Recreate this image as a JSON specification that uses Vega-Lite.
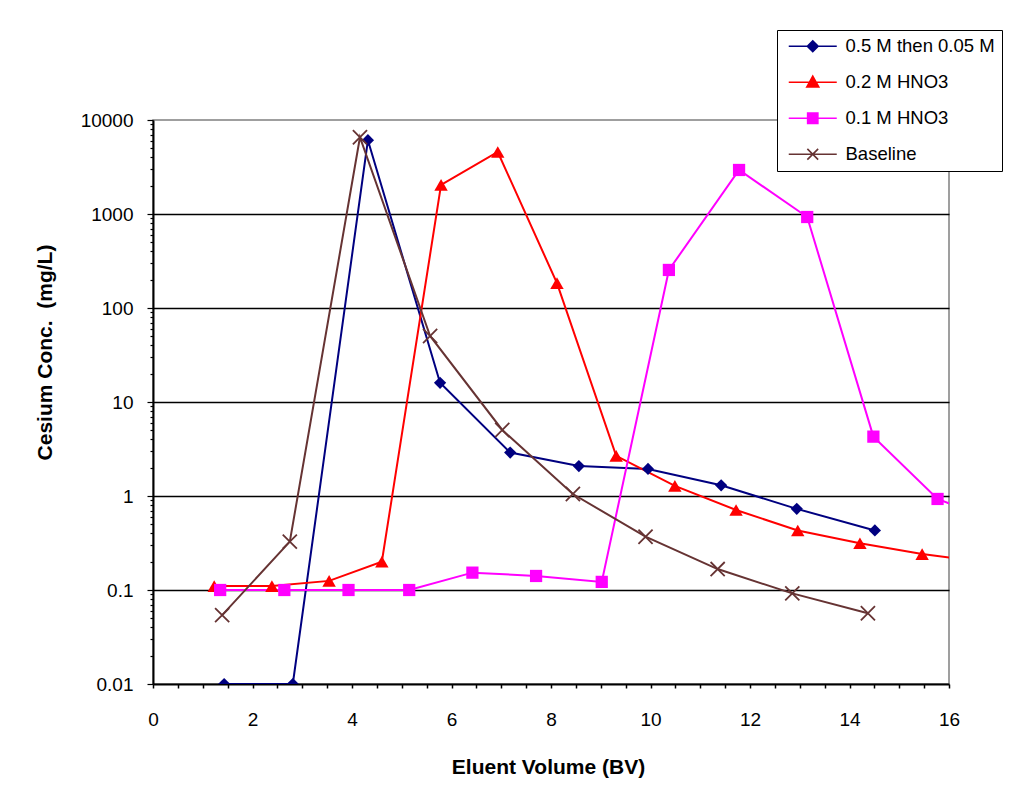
{
  "$schema": "https://vega.github.io/schema/vega-lite/v6.json",
  "width": 796,
  "height": 564,
  "autosize": {"type": "none"},
  "padding": {"left": 153, "top": 120, "right": 61, "bottom": 122},
  "background": "white",
  "config": {
    "font": "Liberation Sans",
    "view": {"stroke": "#808080", "strokeWidth": 1.5}
  },
  "data": {
    "values": [
      {"series": "0.5 M then 0.05 M", "bv": 1.43, "conc": 0.01},
      {"series": "0.5 M then 0.05 M", "bv": 2.81, "conc": 0.01},
      {"series": "0.5 M then 0.05 M", "bv": 4.32, "conc": 6100},
      {"series": "0.5 M then 0.05 M", "bv": 5.77, "conc": 16},
      {"series": "0.5 M then 0.05 M", "bv": 7.18, "conc": 2.9},
      {"series": "0.5 M then 0.05 M", "bv": 8.56, "conc": 2.08},
      {"series": "0.5 M then 0.05 M", "bv": 9.95, "conc": 1.94},
      {"series": "0.5 M then 0.05 M", "bv": 11.42, "conc": 1.3},
      {"series": "0.5 M then 0.05 M", "bv": 12.94, "conc": 0.73},
      {"series": "0.5 M then 0.05 M", "bv": 14.51, "conc": 0.43},
      {"series": "0.2 M HNO3", "bv": 1.23, "conc": 0.11},
      {"series": "0.2 M HNO3", "bv": 2.39, "conc": 0.11},
      {"series": "0.2 M HNO3", "bv": 3.54, "conc": 0.125},
      {"series": "0.2 M HNO3", "bv": 4.6, "conc": 0.2},
      {"series": "0.2 M HNO3", "bv": 5.79, "conc": 2040},
      {"series": "0.2 M HNO3", "bv": 6.93, "conc": 4570},
      {"series": "0.2 M HNO3", "bv": 8.12, "conc": 184},
      {"series": "0.2 M HNO3", "bv": 9.31, "conc": 2.67},
      {"series": "0.2 M HNO3", "bv": 10.49, "conc": 1.28},
      {"series": "0.2 M HNO3", "bv": 11.72, "conc": 0.71},
      {"series": "0.2 M HNO3", "bv": 12.96, "conc": 0.43},
      {"series": "0.2 M HNO3", "bv": 14.21, "conc": 0.314},
      {"series": "0.2 M HNO3", "bv": 15.46, "conc": 0.241},
      {"series": "0.2 M HNO3", "bv": 16.7, "conc": 0.2},
      {"series": "0.1 M HNO3", "bv": 1.35, "conc": 0.1},
      {"series": "0.1 M HNO3", "bv": 2.64, "conc": 0.1},
      {"series": "0.1 M HNO3", "bv": 3.93, "conc": 0.1},
      {"series": "0.1 M HNO3", "bv": 5.15, "conc": 0.1},
      {"series": "0.1 M HNO3", "bv": 6.42, "conc": 0.153},
      {"series": "0.1 M HNO3", "bv": 7.7, "conc": 0.141},
      {"series": "0.1 M HNO3", "bv": 9.02, "conc": 0.122},
      {"series": "0.1 M HNO3", "bv": 10.37, "conc": 254},
      {"series": "0.1 M HNO3", "bv": 11.78, "conc": 2940},
      {"series": "0.1 M HNO3", "bv": 13.15, "conc": 929},
      {"series": "0.1 M HNO3", "bv": 14.48, "conc": 4.28},
      {"series": "0.1 M HNO3", "bv": 15.77, "conc": 0.93},
      {"series": "0.1 M HNO3", "bv": 17.0, "conc": 0.52},
      {"series": "Baseline", "bv": 1.39, "conc": 0.054},
      {"series": "Baseline", "bv": 2.75, "conc": 0.327},
      {"series": "Baseline", "bv": 4.16, "conc": 6550},
      {"series": "Baseline", "bv": 5.57, "conc": 50.4},
      {"series": "Baseline", "bv": 7.02, "conc": 5.04},
      {"series": "Baseline", "bv": 8.44, "conc": 1.05},
      {"series": "Baseline", "bv": 9.9, "conc": 0.369},
      {"series": "Baseline", "bv": 11.35, "conc": 0.167},
      {"series": "Baseline", "bv": 12.85, "conc": 0.092},
      {"series": "Baseline", "bv": 14.37, "conc": 0.0565}
    ]
  },
  "encoding": {
    "x": {
      "field": "bv", "type": "quantitative",
      "scale": {"domain": [0, 16], "nice": false, "zero": false},
      "axis": {
        "title": "Eluent Volume (BV)",
        "titleFont": "Liberation Sans", "titleFontSize": 21, "titleFontWeight": "bold", "titleColor": "black",
        "titleX": 395, "titleY": 83, "titleBaseline": "middle", "titleAlign": "center", "titleAnchor": null,
        "values": [0,0.5,1,1.5,2,2.5,3,3.5,4,4.5,5,5.5,6,6.5,7,7.5,8,8.5,9,9.5,10,10.5,11,11.5,12,12.5,13,13.5,14,14.5,15,15.5,16],
        "labelExpr": "datum.value % 2 === 0 ? format(datum.value, 'd') : ''",
        "labelFont": "Liberation Sans", "labelFontSize": 19, "labelColor": "black",
        "labelPadding": 22, "labelFlush": false, "labelOverlap": false,
        "tickSize": 4, "tickColor": "black", "tickWidth": 1.5,
        "domainColor": "black", "domainWidth": 2,
        "grid": false
      }
    },
    "y": {
      "field": "conc", "type": "quantitative",
      "scale": {"type": "log", "domain": [0.01, 10000], "nice": false},
      "axis": {
        "title": "Cesium Conc.\u00a0 (mg/L)",
        "titleFont": "Liberation Sans", "titleFontSize": 21, "titleFontWeight": "bold", "titleColor": "black",
        "titleX": -108, "titleY": 232, "titleBaseline": "middle", "titleAlign": "center", "titleAngle": 270, "titleAnchor": null,
        "values": [0.01,0.02,0.03,0.04,0.05,0.06,0.07,0.08,0.09,0.1,0.2,0.3,0.4,0.5,0.6,0.7,0.8,0.9,1,2,3,4,5,6,7,8,9,10,20,30,40,50,60,70,80,90,100,200,300,400,500,600,700,800,900,1000,2000,3000,4000,5000,6000,7000,8000,9000,10000],
        "labelExpr": "abs(log(datum.value)/LN10 - round(log(datum.value)/LN10)) < 0.001 ? format(datum.value, '~g') : ''",
        "labelFont": "Liberation Sans", "labelFontSize": 19, "labelColor": "black",
        "labelPadding": 14, "labelFlush": false, "labelOverlap": false,
        "tickSize": {"condition": {"test": "abs(log(datum.value)/LN10 - round(log(datum.value)/LN10)) < 0.001", "value": 6}, "value": 3},
        "tickColor": "black", "tickWidth": 1.2,
        "domainColor": "black", "domainWidth": 2,
        "grid": true, "gridColor": "black", "gridWidth": 1.6,
        "gridOpacity": {"condition": {"test": "abs(log(datum.value)/LN10 - round(log(datum.value)/LN10)) < 0.001 && datum.value > 0.02 && datum.value < 5000", "value": 1}, "value": 0}
      }
    }
  },
  "layer": [
    {
      "mark": {"type": "line", "strokeWidth": 2, "clip": true},
      "encoding": {
        "color": {
          "field": "series", "type": "nominal",
          "scale": {"range": ["#FF00FF", "#FF0000", "#000080", "#663333"]},
          "legend": null
        },
        "order": {"field": "bv", "type": "quantitative"}
      }
    },
    {
      "transform": [{"filter": "datum.series === '0.5 M then 0.05 M'"}],
      "mark": {"type": "point", "shape": "diamond", "filled": true, "size": 150, "opacity": 1, "clip": true},
      "encoding": {"color": {"field": "series", "type": "nominal", "legend": null}}
    },
    {
      "transform": [{"filter": "datum.series === '0.2 M HNO3'"}],
      "mark": {"type": "point", "shape": "triangle-up", "filled": true, "size": 180, "opacity": 1, "clip": true},
      "encoding": {"color": {"field": "series", "type": "nominal", "legend": null}}
    },
    {
      "transform": [{"filter": "datum.series === '0.1 M HNO3'"}],
      "mark": {"type": "point", "shape": "square", "filled": true, "size": 150, "opacity": 1, "clip": true},
      "encoding": {"color": {"field": "series", "type": "nominal", "legend": null}}
    },
    {
      "transform": [{"filter": "datum.series === 'Baseline'"}],
      "mark": {"type": "point", "shape": "M-1,-1L1,1M-1,1L1,-1", "filled": false, "size": 200, "strokeWidth": 1.8, "opacity": 1, "clip": true},
      "encoding": {"color": {"field": "series", "type": "nominal", "legend": null}}
    },
    {
      "mark": {"type": "point", "filled": true, "size": 0, "opacity": 1},
      "encoding": {
        "shape": {
          "field": "series", "type": "nominal",
          "scale": {"domain": ["0.5 M then 0.05 M", "0.2 M HNO3", "0.1 M HNO3", "Baseline"],
            "range": [
              "M-4,0H4M-0.9,0L0,-0.9L0.9,0L0,0.9Z",
              "M-4,0H4M-1,0.8L0,-1L1,0.8Z",
              "M-4,0H4M-0.85,-0.85H0.85V0.85H-0.85Z",
              "M-4,0H4M-0.9,-0.9L0.9,0.9M-0.9,0.9L0.9,-0.9"
            ]},
          "legend": {
            "title": null, "orient": "none", "legendX": 624, "legendY": -90,
            "strokeColor": "black", "fillColor": "white", "padding": 7,
            "labelFont": "Liberation Sans", "labelFontSize": 18.5, "labelColor": "black", "labelLimit": 300,
            "symbolSize": 144, "symbolOffset": 19.5, "labelOffset": 23.5, "rowPadding": 17,
            "symbolStrokeWidth": 1.6, "symbolOpacity": 1
          }
        },
        "fill": {
          "field": "series", "type": "nominal",
          "scale": {"domain": ["0.5 M then 0.05 M", "0.2 M HNO3", "0.1 M HNO3", "Baseline"], "range": ["#000080", "#FF0000", "#FF00FF", "#663333"]}
        },
        "stroke": {
          "field": "series", "type": "nominal",
          "scale": {"domain": ["0.5 M then 0.05 M", "0.2 M HNO3", "0.1 M HNO3", "Baseline"], "range": ["#000080", "#FF0000", "#FF00FF", "#663333"]}
        }
      }
    }
  ]
}
